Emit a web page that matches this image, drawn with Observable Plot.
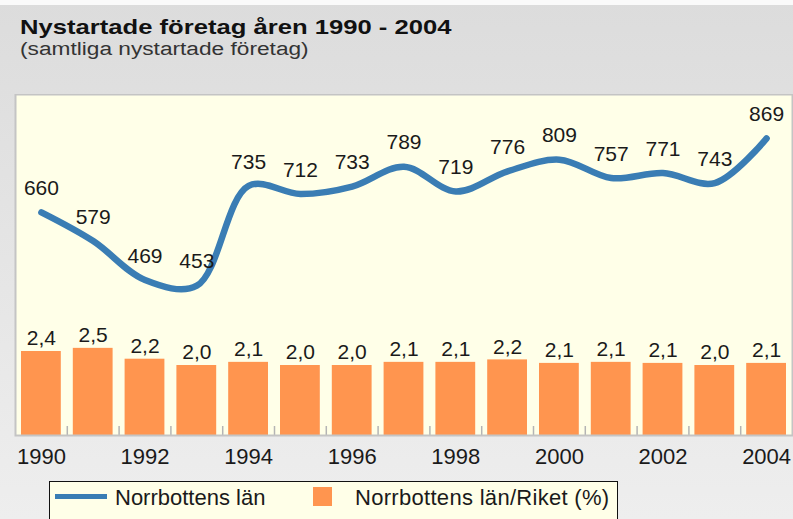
<!DOCTYPE html>
<html><head><meta charset="utf-8">
<script src="https://cdn.jsdelivr.net/npm/d3@7"></script>
<script src="https://cdn.jsdelivr.net/npm/@observablehq/plot@0.6"></script>
<style>
html,body{margin:0;padding:0;}
body{width:793px;height:519px;overflow:hidden;position:relative;background:linear-gradient(#dcdcdc,#eeeeee);font-family:"Liberation Sans",Arial,sans-serif;color:#111;}
#strip{position:absolute;left:0;top:0;width:793px;height:5px;background:#fafafa;}
#title{position:absolute;left:20px;top:16px;font-size:21px;line-height:21px;font-weight:bold;white-space:nowrap;transform:scaleX(1.22);transform-origin:0 0;color:#111;}
#subtitle{position:absolute;left:20px;top:40px;font-size:18px;line-height:18px;white-space:nowrap;transform:scaleX(1.26);transform-origin:0 0;color:#333;}
#chart{position:absolute;left:0;top:94px;width:793px;height:380px;}
#chart svg{position:absolute;left:0;top:0;}
#legend{position:absolute;left:49px;top:481px;width:567px;height:60px;border:1.5px solid #111;background:#ffffe8;}
.lt{position:absolute;font-size:22px;line-height:22px;white-space:nowrap;color:#1a1a1a;}
</style></head><body>
<div id="strip"></div>
<div id="title"></div>
<div id="subtitle"></div>
<div id="chart"></div>
<div id="legend"></div>
<div id="lg"></div>
<script>
const titleText = "Nystartade företag åren 1990 - 2004";
const subtitleText = "(samtliga nystartade företag)";
const years = [1990,1991,1992,1993,1994,1995,1996,1997,1998,1999,2000,2001,2002,2003,2004];
const starts = [660,579,469,453,735,712,733,789,719,776,809,757,771,743,869];
const shares = [2.40,2.49,2.18,2.00,2.09,2.00,2.00,2.09,2.09,2.16,2.06,2.09,2.06,2.00,2.06];
const tickYears = [1990,1992,1994,1996,1998,2000,2002,2004];
const seriesNames = ["Norrbottens län","Norrbottens län/Riket (%)"];
const seriesColors = ["#3a7db4","#ff954f"];

document.getElementById("title").textContent = titleText;
document.getElementById("subtitle").textContent = subtitleText;

const data = years.map((year,i)=>({year, count: starts[i], share: shares[i]}));
const boundaries = years.slice(0,-1).map(y=>y+0.5);
const xDomain = [years[0]-0.5, years[years.length-1]+0.5];

const W = 793, H = 380, mL = 15, mR = 1, mB = 39;
const font = "Liberation Sans, Arial, sans-serif";

const barPlot = Plot.plot({
  width: W, height: H, marginLeft: mL, marginRight: mR, marginTop: 0, marginBottom: mB,
  style: {background: "transparent", fontFamily: font, fontSize: "22px", color: "#1a1a1a"},
  x: {domain: xDomain, label: null, ticks: tickYears, tickSize: 0, tickPadding: 13, tickFormat: d => String(d)},
  y: {domain: [0, 341/35], axis: null},
  marks: [
    Plot.frame({fill: "#ffffe8"}),
    Plot.rectY(data, {x1: d => d.year - 0.5, x2: d => d.year + 0.5, y: "share",
      insetLeft: 6, insetRight: 6, fill: seriesColors[1]}),
    Plot.text(data, {x: "year", y: "share", text: d => d.share.toFixed(1).replace(".", ","),
      dy: -13, fontSize: 21, fill: "#1a1a1a", letterSpacing: 1.5})
  ]
});

const linePlot = Plot.plot({
  width: W, height: H, marginLeft: mL, marginRight: mR, marginTop: 0, marginBottom: mB,
  style: {background: "transparent", fontFamily: font, fontSize: "21px", color: "#1a1a1a"},
  x: {domain: xDomain, axis: null},
  y: {domain: [30, 993], axis: null},
  marks: [
    Plot.ruleX(boundaries, {stroke: "#b4b4b4", strokeWidth: 1.5, insetTop: 332}),
    Plot.frame({stroke: "#c4c4c4", strokeWidth: 2}),
    Plot.line(data, {x: "year", y: "count", stroke: seriesColors[0], strokeWidth: 6.5,
      curve: "catmull-rom", strokeLinecap: "round", strokeLinejoin: "round"}),
    Plot.text(data, {x: "year", y: "count", text: d => String(d.count), dy: -24,
      fontSize: 21, fill: "#1a1a1a"})
  ]
});

const chart = document.getElementById("chart");
chart.appendChild(barPlot);
chart.appendChild(linePlot);

// legend
const lg = document.getElementById("lg");
function add(css, cls, text){ const el = document.createElement("div"); if (cls) el.className = cls; Object.assign(el.style, css); if (text) el.textContent = text; lg.appendChild(el); return el; }
add({position:"absolute", left:"55px", top:"494px", width:"52px", height:"5px", background: seriesColors[0]});
add({left:"115px", top:"487px"}, "lt", seriesNames[0]);
add({position:"absolute", left:"313px", top:"487px", width:"19px", height:"19px", background: seriesColors[1]});
add({left:"355px", top:"487px", letterSpacing:"0.3px"}, "lt", seriesNames[1]);
</script>
</body></html>
